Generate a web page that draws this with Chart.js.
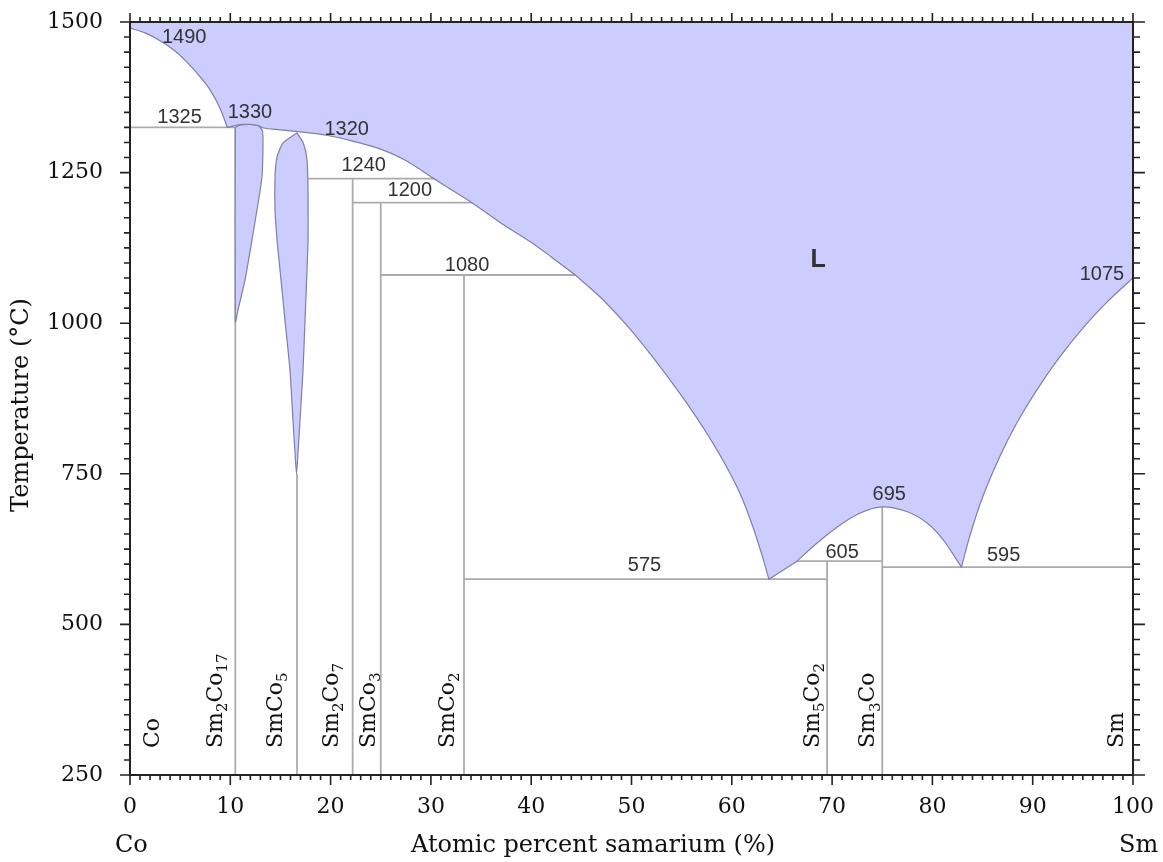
<!DOCTYPE html>
<html>
<head>
<meta charset="utf-8">
<title>Co–Sm phase diagram</title>
<script src="https://cdn.jsdelivr.net/npm/chart.js@4.4.1/dist/chart.umd.min.js"></script>
<style>
  html, body { margin: 0; padding: 0; background: #fff; }
  canvas { display: block; }
</style>
</head>
<body>
<canvas id="phaseChart" width="1163" height="862"></canvas>
<script>
// liquidus: [atomic % Sm, temperature °C]
const liquidus = [
  [0, 1490], [1.5, 1482], [3.0, 1469], [4.5, 1452], [5.7, 1433], [7.0, 1409],
  [8.0, 1387], [9.0, 1356], [9.7, 1325], [10.5, 1328], [11.2, 1330], [12.0, 1330],
  [12.8, 1328], [13.3, 1324], [15.0, 1321], [16.7, 1318], [19.6, 1312], [22.0, 1303],
  [25.0, 1289], [27.5, 1270], [30.3, 1240], [32.2, 1220], [34.1, 1200], [37.0, 1166],
  [40.2, 1132], [42.0, 1110], [44.4, 1080], [46.9, 1043], [49.6, 995], [52.1, 944],
  [54.8, 884], [57.1, 828], [59.1, 773], [60.8, 718], [62.1, 662], [63.1, 610],
  [63.7, 575], [65.1, 590], [66.5, 605], [68.5, 635], [70.8, 665], [72.8, 685],
  [75.0, 695], [77.5, 687], [79.5, 668], [81.1, 640], [82.9, 595], [83.7, 645],
  [85.0, 711], [86.7, 778], [88.4, 834], [90.4, 889], [92.7, 944], [95.0, 992],
  [97.4, 1035], [100, 1075]
];
// compositions where the liquidus has a corner (eutectics / peritectics)
const liquidusCorners = [9.7, 44.4, 63.7, 66.5, 82.9];

// homogeneity ranges of Sm2Co17 and SmCo5 (closed outlines)
const sm2co17Field = [
  [10.5, 1325], [11.0, 1329], [12.0, 1330], [12.8, 1328], [13.2, 1319], [13.26, 1299],
  [13.16, 1243], [12.66, 1188], [12.16, 1138], [11.47, 1072], [10.77, 1022], [10.5, 1002],
  [10.5, 1325]
];
const smco5Field = [
  [16.65, 1316], [17.28, 1299], [17.65, 1271], [17.75, 1216], [17.75, 1138], [17.65, 1088],
  [17.45, 1005], [17.25, 922], [16.95, 839], [16.75, 785], [16.6, 750], [16.45, 785],
  [16.25, 839], [15.95, 922], [15.45, 1005], [14.96, 1088], [14.66, 1138], [14.46, 1188],
  [14.46, 1243], [14.66, 1276], [15.25, 1299], [16.65, 1316]
];

// invariant lines: [temperature, from % Sm, to % Sm]
const tieLines = [
  [1325, 0, 10.5], [1240, 17.75, 30.3], [1200, 22.2, 34.1], [1080, 25.0, 44.4],
  [575, 33.3, 69.5], [605, 66.5, 75.0], [595, 75.0, 100]
];

// phases, composition (% Sm) and the temperature where the phase line ends
const phaseNames = ['Co', 'Sm_2Co_17', 'SmCo_5', 'Sm_2Co_7', 'SmCo_3', 'SmCo_2', 'Sm_5Co_2', 'Sm_3Co', 'Sm'];
const phaseComp = [0, 10.5, 16.65, 22.2, 25.0, 33.3, 69.5, 75.0, 100];
const phaseTop = [null, 1325, 750, 1240, 1200, 1080, 605, 695, null];

const xTicks = [0, 10, 20, 30, 40, 50, 60, 70, 80, 90, 100];
const yTicks = [250, 500, 750, 1000, 1250, 1500];

const toPts = arr => arr.map(p => ({ x: p[0], y: p[1] }));

// a repeated point makes the spline leave a sharp corner there
const liquidusPts = [];
liquidus.forEach(p => {
  liquidusPts.push({ x: p[0], y: p[1] });
  if (liquidusCorners.includes(p[0])) liquidusPts.push({ x: p[0], y: p[1] });
});

const LIQ_FILL = 'rgb(204, 204, 255)';
const LIQ_EDGE = '#7f7fa8';
const GREY = '#ababab';

const datasets = [];
datasets.push({
  data: liquidusPts, fill: 'end', backgroundColor: LIQ_FILL,
  borderColor: LIQ_EDGE, borderWidth: 1.2, tension: 0.3
});
[sm2co17Field, smco5Field].forEach(f => datasets.push({
  data: toPts(f), fill: 'shape', backgroundColor: LIQ_FILL,
  borderColor: LIQ_EDGE, borderWidth: 1.2, tension: 0.2
}));
tieLines.forEach(([t, a, b]) => datasets.push({
  data: [{ x: a, y: t }, { x: b, y: t }], borderColor: GREY, borderWidth: 1.8, fill: false
}));
phaseComp.forEach((c, i) => {
  if (phaseTop[i] === null) return;
  datasets.push({
    data: [{ x: c, y: 250 }, { x: c, y: phaseTop[i] }], borderColor: GREY, borderWidth: 1.8, fill: false
  });
});
datasets.forEach(d => { d.showLine = true; d.pointRadius = 0; });

// where the temperature labels sit (data coordinates of the text centre)
const tempLabels = [
  ['1490', 5.4, 1475], ['1325', 4.94, 1341], ['1330', 11.96, 1350], ['1320', 21.6, 1322],
  ['1240', 23.3, 1261], ['1200', 27.9, 1221], ['1080', 33.6, 1095], ['575', 51.3, 597],
  ['605', 71.0, 619], ['695', 75.7, 716], ['595', 87.1, 614], ['1075', 96.9, 1081]
];
// baseline of each vertical phase label, % Sm
const phaseLabelX = [2.85, 9.17, 15.15, 20.7, 24.4, 32.3, 68.7, 74.2, 99.0];

const SERIF = '"DejaVu Serif", serif';
const SANS = '"Liberation Sans", Arial, sans-serif';

function drawFormula(ctx, formula, px, py, size) {
  ctx.save();
  ctx.translate(px, py);
  ctx.rotate(-Math.PI / 2);
  ctx.textAlign = 'left';
  ctx.textBaseline = 'alphabetic';
  let cx = 0;
  formula.split(/(_\d+)/).forEach(part => {
    if (!part) return;
    if (part[0] === '_') {
      const s = part.slice(1);
      ctx.font = Math.round(size * 0.68) + 'px ' + SERIF;
      ctx.fillText(s, cx, size * 0.24);
      cx += ctx.measureText(s).width;
    } else {
      ctx.font = size + 'px ' + SERIF;
      ctx.fillText(part, cx, 0);
      cx += ctx.measureText(part).width;
    }
  });
  ctx.restore();
}

const frameAndLabels = {
  id: 'frameAndLabels',
  afterDatasetsDraw(chart) {
    const { ctx, chartArea: a, scales: { x, y } } = chart;
    ctx.save();

    // tick marks on all four sides
    ctx.strokeStyle = '#222';
    ctx.lineWidth = 1.6;
    ctx.beginPath();
    for (let v = 0; v <= 100; v++) {
      const px = x.getPixelForValue(v);
      const major = v % 10 === 0;
      ctx.moveTo(px, a.bottom); ctx.lineTo(px, a.bottom + (major ? 10 : 5));
      ctx.moveTo(px, a.top); ctx.lineTo(px, a.top - (major ? 9 : 5));
    }
    for (let v = 250; v <= 1500; v += 25) {
      const py = y.getPixelForValue(v);
      const major = (v - 250) % 250 === 0;
      ctx.moveTo(a.left, py); ctx.lineTo(a.left - (major ? 10 : 6), py);
      ctx.moveTo(a.right, py); ctx.lineTo(a.right + (major ? 12 : 7), py);
    }
    ctx.stroke();
    ctx.lineWidth = 2;
    ctx.strokeRect(a.left, a.top, a.right - a.left, a.bottom - a.top);

    // temperatures of the invariant points
    ctx.fillStyle = '#333';
    ctx.font = '20px ' + SANS;
    ctx.textAlign = 'center';
    ctx.textBaseline = 'middle';
    tempLabels.forEach(([txt, cx, t]) => {
      ctx.fillText(txt, x.getPixelForValue(cx), y.getPixelForValue(t));
    });
    ctx.font = 'bold 25px ' + SANS;
    ctx.fillText('L', x.getPixelForValue(68.6), y.getPixelForValue(1105));

    // phase names, written upwards
    ctx.fillStyle = '#111';
    phaseNames.forEach((n, i) => {
      drawFormula(ctx, n, x.getPixelForValue(phaseLabelX[i]), 748, 22);
    });

    // axis titles
    ctx.font = '24px ' + SERIF;
    ctx.textBaseline = 'alphabetic';
    ctx.textAlign = 'left';
    ctx.fillText('Co', 115, 852);
    ctx.fillText('Atomic percent samarium (%)', 411, 852);
    ctx.fillText('Sm', 1119, 852);
    ctx.save();
    ctx.translate(28, 405);
    ctx.rotate(-Math.PI / 2);
    ctx.textAlign = 'center';
    ctx.fillText('Temperature (°C)', 0, 0);
    ctx.restore();

    ctx.restore();
  }
};

new Chart(document.getElementById('phaseChart'), {
  type: 'scatter',
  data: { datasets },
  options: {
    responsive: false,
    animation: false,
    layout: { padding: { top: 22, right: 30, left: 0, bottom: 0 } },
    plugins: { legend: { display: false }, tooltip: { enabled: false } },
    scales: {
      x: {
        type: 'linear', min: 0, max: 100,
        afterBuildTicks: s => { s.ticks = xTicks.map(v => ({ value: v })); },
        ticks: { font: { family: SERIF, size: 22 }, color: '#111', padding: 11, maxRotation: 0, autoSkip: false,
                 callback: v => String(v) },
        grid: { display: false }, border: { display: false },
        afterFit: s => { s.height = 87; s.paddingLeft = 0; s.paddingRight = 0; }
      },
      y: {
        type: 'linear', min: 250, max: 1500,
        afterBuildTicks: s => { s.ticks = yTicks.map(v => ({ value: v })); },
        ticks: { font: { family: SERIF, size: 22 }, color: '#111', padding: 19, autoSkip: false,
                 callback: v => String(v) },
        grid: { display: false }, border: { display: false },
        afterFit: s => { s.width = 130; s.paddingTop = 0; s.paddingBottom = 0; }
      }
    }
  },
  plugins: [frameAndLabels]
});
</script>
</body>
</html>
